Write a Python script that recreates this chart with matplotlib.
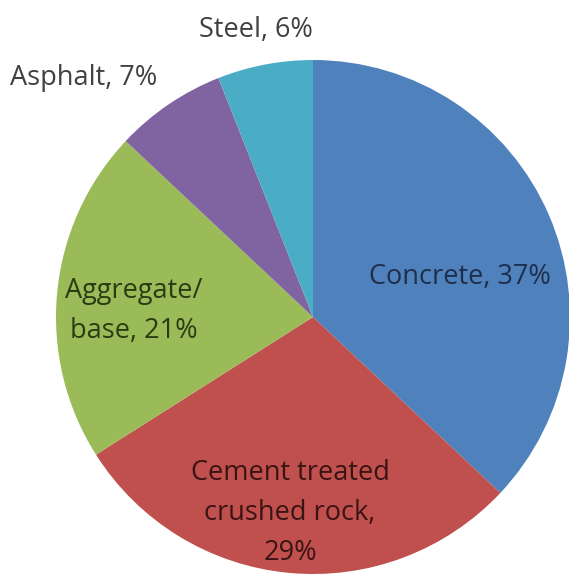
import matplotlib.pyplot as plt

materials = ['Concrete', 'Cement treated\ncrushed rock,\n', 'Aggregate/\nbase, ', 'Asphalt, ', 'Steel, ']
shares = [37, 29, 21, 7, 6]
colors = ['#4f81bd', '#c0504d', '#9bbb59', '#8064a2', '#4bacc6']
text_colors = ['#1e2f4c', '#3a1414', '#2b3b12', '#404040', '#404040']

W, H = 569, 579
fig = plt.figure(figsize=(W / 100, H / 100), dpi=100)
ax = fig.add_axes([0, 0, 1, 1])

cx, cy, r = 313, H - 317, 257
ax.pie(shares, colors=colors, startangle=90, counterclock=False,
       center=(cx, cy), radius=r, frame=True,
       wedgeprops=dict(linewidth=0))
ax.set_xlim(0, W)
ax.set_ylim(0, H)
ax.set_aspect('equal')
ax.axis('off')

# label placement (pixels from top-left)
label_pos = [(460, 277), (290, 513), (134, 311), (84, 78), (256, 30)]
for i, (name, val) in enumerate(zip(materials, shares)):
    sep = ', ' if i == 0 else ''
    x, y = label_pos[i]
    ax.text(x, H - y, f'{name}{sep}{val}%', ha='center', va='center',
            fontsize=19.5, family=['Open Sans', 'DejaVu Sans'],
            color=text_colors[i], linespacing=1.55)

fig.savefig('out.png', dpi=100)
